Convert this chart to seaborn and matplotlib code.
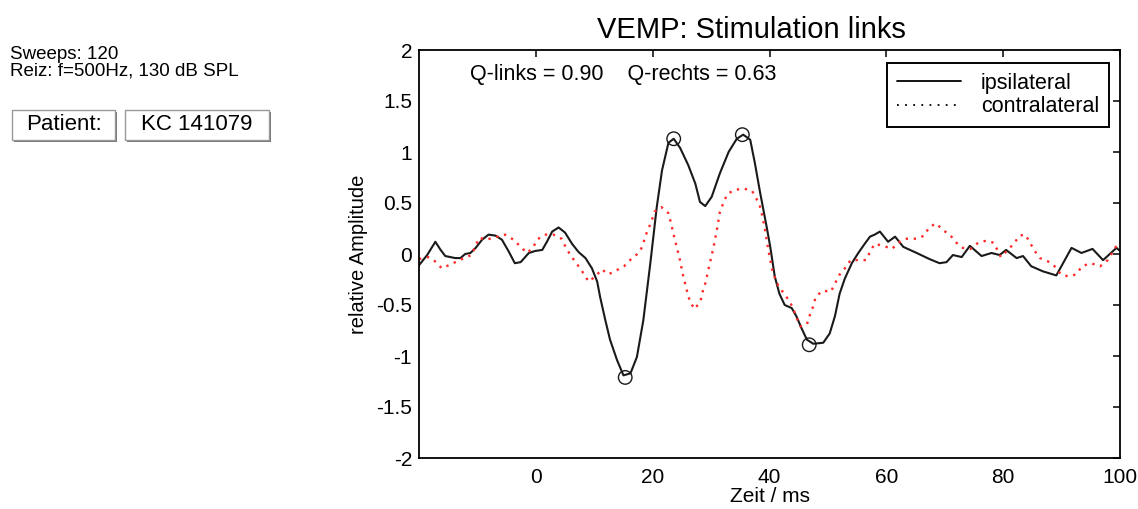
import matplotlib
matplotlib.use("Agg")
import matplotlib.pyplot as plt
from matplotlib.lines import Line2D
from matplotlib.patches import Rectangle
import pandas as pd
import seaborn as sns

# ipsilateral response (solid black)
ipsi_t = [-20, -18.6, -17.2, -16.3, -15.5, -13.8, -12.9, -12.1, -11.2, -10.3,
          -9.2, -8.1, -6.9, -5.8, -4.6, -3.6, -2.6, -1.2, -0.1, 1.1,
          1.9, 2.8, 3.9, 5.0, 6.2, 7.3, 8.5, 9.6, 10.5, 11.0,
          11.9, 12.7, 13.9, 15.0, 16.2, 17.3, 18.4, 19.6, 20.7, 21.6,
          22.7, 23.6, 24.7, 26.1, 27.3, 28.1, 29.0, 30.1, 31.5, 33.0,
          34.4, 35.5, 36.7, 37.5, 38.4, 39.5, 40.1, 40.9, 41.7, 42.6,
          43.8, 44.6, 45.5, 46.4, 47.5, 49.2, 50.3, 51.2, 52.0, 52.9,
          54.1, 55.2, 56.3, 57.2, 58.0, 58.9, 60.3, 61.5, 62.9, 65.2,
          67.4, 69.1, 70.3, 71.4, 72.9, 74.3, 76.3, 78.0, 79.4, 80.5,
          82.3, 83.4, 84.8, 86.8, 89.1, 91.7, 93.4, 95.3, 97.1, 99.4,
          100]
ipsi_amp = [-0.11, -0.01, 0.12, 0.04, -0.02, -0.04, -0.04, 0.00, 0.01, 0.06,
            0.14, 0.19, 0.18, 0.14, 0.02, -0.09, -0.08, 0.01, 0.03, 0.04,
            0.12, 0.22, 0.26, 0.21, 0.10, 0.02, -0.04, -0.14, -0.27, -0.42,
            -0.65, -0.84, -1.04, -1.19, -1.17, -1.01, -0.65, -0.09, 0.46, 0.82,
            1.09, 1.13, 1.04, 0.87, 0.69, 0.51, 0.47, 0.56, 0.79, 1.00,
            1.13, 1.17, 1.12, 0.89, 0.60, 0.27, 0.08, -0.22, -0.39, -0.50,
            -0.53, -0.61, -0.73, -0.84, -0.88, -0.87, -0.78, -0.61, -0.39, -0.24,
            -0.09, 0.01, 0.10, 0.17, 0.19, 0.22, 0.12, 0.17, 0.07, 0.01,
            -0.05, -0.09, -0.08, -0.01, -0.03, 0.08, -0.02, 0.01, -0.01, 0.04,
            -0.04, -0.02, -0.12, -0.17, -0.21, 0.06, 0.01, 0.05, -0.06, 0.06,
            0.03]

# contralateral response (red dotted)
contra_t = [-20, -18.5, -17.3, -16.1, -14.9, -12.3, -11.0, -10.3, -9.7, -8.5,
            -5.3, -3.8, -2.6, -1.5, -0.5, 0.2, 1.5, 3.0, 4.4, 5.0,
            5.8, 6.8, 7.7, 8.5, 9.0, 10.2, 11.3, 12.4, 13.8, 15.1,
            16.3, 17.6, 18.3, 18.7, 19.3, 19.9, 20.4, 21.5, 22.7, 23.1,
            23.8, 24.6, 25.2, 26.0, 26.4, 27.2, 28.2, 28.5, 29.0, 29.7,
            30.4, 31.0, 31.5, 32.1, 32.8, 34.1, 35.7, 37.0, 37.6, 38.3,
            38.7, 39.2, 39.8, 40.4, 40.9, 41.5, 42.5, 43.4, 44.1, 44.6,
            45.3, 46.4, 46.9, 47.5, 47.9, 49.1, 50.5, 51.2, 51.9, 52.9,
            53.9, 55.2, 56.5, 57.2, 58.0, 59.5, 61.0, 62.0, 63.5, 65.2,
            66.5, 67.3, 68.5, 69.6, 71.0, 72.0, 73.1, 74.4, 75.7, 77.1,
            78.4, 79.6, 80.8, 81.8, 82.8, 83.8, 84.6, 85.4, 86.3, 87.6,
            88.8, 89.9, 91.2, 92.5, 93.5, 95.0, 96.6, 97.9, 99.6, 100]
contra_amp = [-0.05, -0.03, -0.07, -0.14, -0.11, -0.04, -0.01, 0.08, 0.16, 0.14,
              0.19, 0.14, 0.07, 0.01, 0.06, 0.14, 0.19, 0.19, 0.15, 0.08,
              0.00, -0.08, -0.15, -0.22, -0.27, -0.22, -0.15, -0.20, -0.16, -0.12,
              -0.05, 0.01, 0.08, 0.17, 0.25, 0.34, 0.42, 0.46, 0.40, 0.31,
              0.14, -0.04, -0.21, -0.39, -0.47, -0.54, -0.46, -0.38, -0.29, -0.11,
              0.06, 0.24, 0.41, 0.50, 0.59, 0.63, 0.64, 0.62, 0.56, 0.48,
              0.39, 0.25, 0.04, -0.14, -0.23, -0.31, -0.39, -0.46, -0.54, -0.62,
              -0.71, -0.69, -0.60, -0.51, -0.42, -0.36, -0.37, -0.29, -0.21, -0.14,
              -0.06, -0.06, -0.06, 0.02, 0.10, 0.08, 0.05, 0.11, 0.15, 0.15,
              0.18, 0.26, 0.30, 0.24, 0.18, 0.11, 0.06, 0.05, 0.11, 0.13,
              0.11, -0.03, 0.04, 0.10, 0.18, 0.19, 0.11, 0.03, -0.04, -0.07,
              -0.12, -0.20, -0.22, -0.20, -0.12, -0.09, -0.12, -0.06, 0.10, 0.12]

# marked peaks (n1, p1, p2, n2)
peak_t = [15.3, 23.6, 35.35, 46.8]
peak_amp = [-1.21, 1.13, 1.17, -0.89]

x_ticks = [0, 20, 40, 60, 80, 100]
y_ticks = [-2, -1.5, -1, -0.5, 0, 0.5, 1, 1.5, 2]

sns.set_style("white")
plt.rcParams['font.family'] = ['Liberation Sans', 'DejaVu Sans']
plt.rcParams['axes.unicode_minus'] = False
for key in ['text.color', 'axes.labelcolor', 'xtick.color', 'ytick.color']:
    plt.rcParams[key] = 'black'

fig = plt.figure(figsize=(11.38, 5.09), dpi=100)
ax = fig.add_axes([419 / 1138, 1 - 458 / 509, 701 / 1138, 408 / 509])

ipsi = pd.DataFrame({'t': ipsi_t, 'amp': ipsi_amp})
contra = pd.DataFrame({'t': contra_t, 'amp': contra_amp})
peaks = pd.DataFrame({'t': peak_t, 'amp': peak_amp})

sns.lineplot(data=ipsi, x='t', y='amp', ax=ax, color='#1a1a1a', lw=1.5,
             sort=False, errorbar=None, solid_joinstyle='round')
sns.lineplot(data=contra, x='t', y='amp', ax=ax, color='#ff2a2a', lw=1.7,
             linestyle=(0, (1, 2.4)), sort=False, errorbar=None)
sns.scatterplot(data=peaks, x='t', y='amp', ax=ax, marker='o', s=95,
                facecolor='none', edgecolor='#1a1a1a', linewidth=1.0, zorder=5)

ax.set_xlim(-20, 100)
ax.set_ylim(-2, 2)
ax.set_xticks(x_ticks)
ax.set_yticks(y_ticks)
ax.set_yticklabels([f'{v:g}' for v in y_ticks])
ax.tick_params(direction='in', length=5, width=1.1, labelsize=15,
               top=True, right=True)
ax.tick_params(axis='x', pad=7)
ax.tick_params(axis='y', pad=5)
for sp in ax.spines.values():
    sp.set_color('black')
    sp.set_linewidth(1.3)

ax.set_xlabel('Zeit / ms', fontsize=15, labelpad=0)
ax.set_ylabel('relative Amplitude', fontsize=14.5, labelpad=6)
ax.set_title('VEMP: Stimulation links', fontsize=21, x=0.474, pad=9)

ax.text(0.073, 0.939, 'Q-links = 0.90    Q-rechts = 0.63', transform=ax.transAxes,
        fontsize=15.5, va='center', ha='left')

handles = [Line2D([], [], color='black', lw=1.3),
           Line2D([], [], color='black', lw=1.3, linestyle=(0, (1, 3.5)))]
leg = ax.legend(handles, ['ipsilateral', 'contralateral'], loc='upper right',
                bbox_to_anchor=(0.984, 0.968), borderaxespad=0, fontsize=15.5,
                handlelength=3.0, handletextpad=0.9, labelspacing=0.12,
                borderpad=0.45, fancybox=False, framealpha=1)
leg.get_frame().set_edgecolor('black')
leg.get_frame().set_linewidth(1.4)

# info text on the left (one block, tight line spacing)
fig.text(10 / 1138, 1 - 46 / 509, 'Sweeps: 120\nReiz: f=500Hz, 130 dB SPL',
         fontsize=13.5, va='top', ha='left', linespacing=0.95)

# button-like boxes
for (x0, x1, label) in [(12, 115, 'Patient:'), (125, 269, 'KC 141079')]:
    y0, y1 = 110, 140
    fig.patches.append(Rectangle((x0 / 1138 + 2 / 1138, 1 - (y1 + 2) / 509),
                                 (x1 - x0) / 1138, (y1 - y0) / 509,
                                 transform=fig.transFigure, facecolor='#777777',
                                 edgecolor='none', zorder=1))
    fig.patches.append(Rectangle((x0 / 1138, 1 - y1 / 509),
                                 (x1 - x0) / 1138, (y1 - y0) / 509,
                                 transform=fig.transFigure, facecolor='white',
                                 edgecolor='#999999', lw=1.0, zorder=2))
    fig.text((x0 + x1) / 2 / 1138, 1 - (y0 + y1) / 2 / 509, label, fontsize=16,
             ha='center', va='center', zorder=3)

fig.savefig('out.png', dpi=100)
